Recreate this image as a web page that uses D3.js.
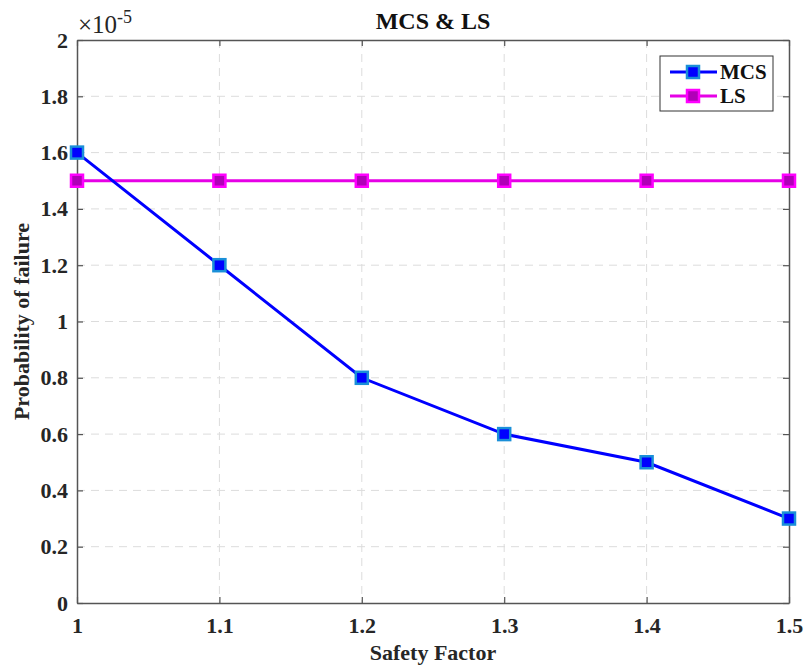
<!DOCTYPE html>
<html>
<head>
<meta charset="utf-8">
<script src="https://cdn.jsdelivr.net/npm/d3@7"></script>
<style>
  body { margin: 0; background: #fff; }
  text { font-family: "Liberation Serif", "Times New Roman", serif; font-weight: bold; }
</style>
</head>
<body>
<svg class="chart" width="806" height="666"></svg>
<script>
// data (probability values in units of 1e-5)
var safetyFactor = [1, 1.1, 1.2, 1.3, 1.4, 1.5];
var mcsValues = [1.6, 1.2, 0.8, 0.6, 0.5, 0.3];
var lsValues = [1.5, 1.5, 1.5, 1.5, 1.5, 1.5];
var xTicks = [1, 1.1, 1.2, 1.3, 1.4, 1.5];
var yTicks = [0, 0.2, 0.4, 0.6, 0.8, 1, 1.2, 1.4, 1.6, 1.8, 2];

var svg = d3.select(".chart"),
    margin = {left: 77, top: 40, right: 17, bottom: 63},
    width = +svg.attr("width") - margin.left - margin.right,
    height = +svg.attr("height") - margin.top - margin.bottom;

var g = svg.append("g")
    .attr("transform", "translate(" + margin.left + "," + margin.top + ")");

var x = d3.scaleLinear().domain([1, 1.5]).range([0, width]);
var y = d3.scaleLinear().domain([0, 2]).range([height, 0]);

// grid
g.append("g").selectAll("line")
    .data(xTicks.slice(1, -1))
    .enter().append("line")
    .attr("x1", d => x(d)).attr("x2", d => x(d))
    .attr("y1", 0).attr("y2", height)
    .attr("stroke", "#dcdcdc").attr("stroke-dasharray", "8,6");
g.append("g").selectAll("line")
    .data(yTicks.slice(1, -1))
    .enter().append("line")
    .attr("y1", d => y(d)).attr("y2", d => y(d))
    .attr("x1", 0).attr("x2", width)
    .attr("stroke", "#dcdcdc").attr("stroke-dasharray", "8,6");

// axes (inward ticks, box)
var tickCol = "#262626";
var xAxis = g.append("g").attr("transform", "translate(0," + height + ")")
    .call(d3.axisBottom(x).tickValues(xTicks).tickSizeInner(-6).tickSizeOuter(0).tickPadding(14).tickFormat(d3.format("")));
var xTop = g.append("g")
    .call(d3.axisTop(x).tickValues(xTicks).tickSizeInner(-6).tickSizeOuter(0).tickFormat(""));
var yAxis = g.append("g")
    .call(d3.axisLeft(y).tickValues(yTicks).tickSizeInner(-6).tickSizeOuter(0).tickPadding(9).tickFormat(d3.format("")));
var yRight = g.append("g").attr("transform", "translate(" + width + ",0)")
    .call(d3.axisRight(y).tickValues(yTicks).tickSizeInner(-6).tickSizeOuter(0).tickFormat(""));

[xAxis, xTop, yAxis, yRight].forEach(function(a) {
    a.selectAll("path").attr("stroke", "#555").attr("stroke-width", 1.5);
    a.selectAll("line").attr("stroke", "#555").attr("stroke-width", 1.2);
    a.selectAll("text").attr("fill", tickCol)
        .style("font-size", "22px").style("font-family", "Liberation Serif").style("font-weight", "bold");
});

// exponent label
svg.append("text")
    .attr("x", margin.left + 1).attr("y", margin.top - 7)
    .attr("fill", tickCol)
    .style("font-size", "25px").style("font-weight", "normal")
    .text("\u00d710")
    .append("tspan").attr("dy", -10).style("font-size", "18px").text("-5");

// lines
var line = d3.line().x((d, i) => x(safetyFactor[i])).y(d => y(d));

var series = [
    {name: "MCS", values: mcsValues, color: "#0000ff", fill: "#0000ff", edge: "#1a8fd8"},
    {name: "LS", values: lsValues, color: "#e600e6", fill: "#b000b8", edge: "#ff00ff"}
];

series.slice().reverse().forEach(function(s) {
    g.append("path").datum(s.values)
        .attr("d", line)
        .attr("fill", "none")
        .attr("stroke", s.color)
        .attr("stroke-width", 3);
});
series.forEach(function(s) {
    g.append("g").selectAll("rect")
        .data(s.values)
        .enter().append("rect")
        .attr("x", (d, i) => x(safetyFactor[i]) - 6)
        .attr("y", d => y(d) - 6)
        .attr("width", 12).attr("height", 12)
        .attr("fill", s.fill)
        .attr("stroke", s.edge)
        .attr("stroke-width", 2.5);
});

// legend
var lg = svg.append("g").attr("transform", "translate(660,56)");
lg.append("rect").attr("width", 113).attr("height", 55)
    .attr("fill", "#fff").attr("stroke", "#333").attr("stroke-width", 1);
series.forEach(function(s, i) {
    var yy = 16 + i * 24;
    lg.append("line").attr("x1", 10).attr("x2", 57).attr("y1", yy).attr("y2", yy)
        .attr("stroke", s.color).attr("stroke-width", 3);
    lg.append("rect").attr("x", 27).attr("y", yy - 6).attr("width", 12).attr("height", 12)
        .attr("fill", s.fill).attr("stroke", s.edge).attr("stroke-width", 2.5);
    lg.append("text").attr("x", 60).attr("y", yy + 7)
        .attr("fill", "#111").style("font-size", "21px").text(s.name);
});

// title and axis labels
svg.append("text")
    .attr("x", 433).attr("y", 29)
    .attr("text-anchor", "middle").attr("fill", "#111")
    .style("font-size", "24px").text("MCS & LS");
svg.append("text")
    .attr("x", margin.left + width / 2).attr("y", 660)
    .attr("text-anchor", "middle").attr("fill", "#262626")
    .style("font-size", "22px").text("Safety Factor");
svg.append("text")
    .attr("transform", "translate(29," + (margin.top + height / 2) + ") rotate(-90)")
    .attr("text-anchor", "middle").attr("fill", "#262626")
    .style("font-size", "22px").text("Probability of failure");
</script>
</body>
</html>
